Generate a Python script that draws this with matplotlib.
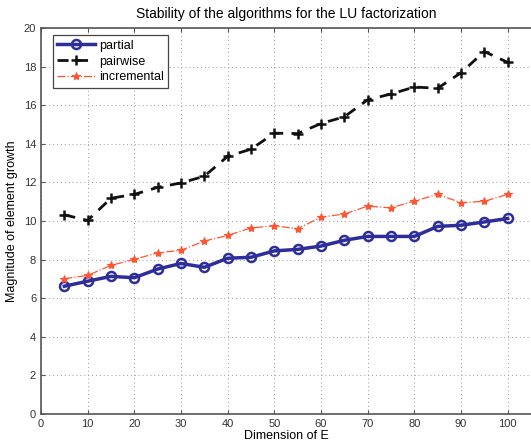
import matplotlib.pyplot as plt

plt.rcParams['font.family'] = ['Liberation Sans', 'DejaVu Sans']

dims = [5, 10, 15, 20, 25, 30, 35, 40, 45, 50, 55, 60, 65, 70, 75, 80, 85, 90, 95, 100]
partial = [6.62, 6.88, 7.13, 7.06, 7.51, 7.8, 7.6, 8.07, 8.12, 8.45, 8.53, 8.7, 9.0, 9.2, 9.2, 9.2, 9.72, 9.78, 9.95, 10.13]
pairwise = [10.32, 10.03, 11.18, 11.38, 11.74, 11.97, 12.32, 13.35, 13.72, 14.55, 14.53, 15.05, 15.4, 16.28, 16.58, 16.94, 16.88, 17.68, 18.78, 18.22]
incremental = [7.01, 7.18, 7.7, 8.01, 8.35, 8.48, 8.96, 9.25, 9.64, 9.75, 9.6, 10.2, 10.36, 10.77, 10.68, 11.03, 11.38, 10.95, 11.02, 11.38]

fig = plt.figure(figsize=(5.31, 4.43), dpi=100)
ax = fig.add_axes([0.0772, 0.0655, 0.9228, 0.8713])

ax.plot(dims, partial, color='#2e2e9a', lw=2.5, marker='o', ms=6.5,
        mfc='none', mew=1.8, label='partial')
ax.plot(dims, pairwise, color='#111111', lw=2, ls=(0, (4, 3)), marker='+', ms=7,
        mew=1.8, label='pairwise')
ax.plot(dims, incremental, color='#ff5533', lw=0.9, ls='-.', marker='*', ms=6,
        mew=0.8, label='incremental')

ax.set_xlim(0, 105)
ax.set_ylim(0, 20)
ax.set_xticks(range(0, 101, 10))
ax.set_yticks(range(0, 21, 2))
ax.grid(True, ls=(0, (1, 3)), color='#999999', lw=0.7)
ax.tick_params(direction='in', labelsize=8, colors='#555555', labelcolor='#333333',
               top=True, length=3)
ax.spines['right'].set_visible(False)
for s in ['left', 'bottom', 'top']:
    ax.spines[s].set_color('#555555')
    ax.spines[s].set_linewidth(1.2)

ax.set_title('Stability of the algorithms for the LU factorization', fontsize=10, pad=7)
ax.set_xlabel('Dimension of E', fontsize=9, labelpad=1)
ax.set_ylabel('Magnitude of element growth', fontsize=9, labelpad=4)

leg = ax.legend(loc='upper left', bbox_to_anchor=(0.012, 0.997), fontsize=9,
                fancybox=False, framealpha=1, edgecolor='#444444',
                borderpad=0.35, labelspacing=0.3, handlelength=3.0, handletextpad=0.3)
leg.get_frame().set_linewidth(0.9)

fig.savefig('out.png', dpi=100)
